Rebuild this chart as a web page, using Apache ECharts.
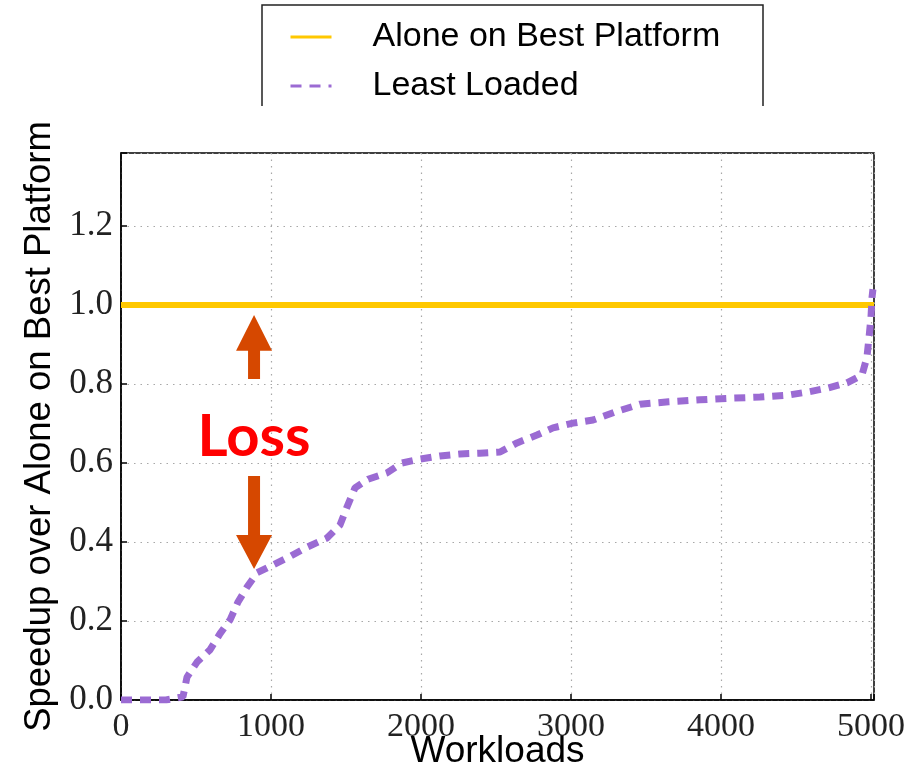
<!DOCTYPE html>
<html>
<head>
<meta charset="utf-8">
<script src="https://cdn.jsdelivr.net/npm/echarts@6/dist/echarts.min.js"></script>
<style>html,body{margin:0;padding:0;background:#fff}#c{width:916px;height:770px}</style>
</head>
<body>
<div id="c"></div>
<script>
// ---- data ----
const seriesNames = ['Alone on Best Platform', 'Least Loaded'];
const aloneX = [0, 5020];
const aloneY = [1.0, 1.0];
const leastX = [0, 150, 300, 413, 440, 507, 593, 660, 727, 780, 840, 907, 1013, 1120, 1240, 1373, 1460, 1507, 1560, 1647, 1773, 1873, 1993, 2127, 2260, 2393, 2527, 2640, 2773, 2880, 3013, 3147, 3300, 3460, 3650, 3860, 4050, 4260, 4447, 4580, 4713, 4840, 4940, 4973, 4987, 5000, 5007, 5013];
const leastY = [0, 0, 0, 0.008, 0.058, 0.096, 0.127, 0.168, 0.203, 0.248, 0.286, 0.322, 0.342, 0.362, 0.387, 0.410, 0.443, 0.489, 0.537, 0.559, 0.575, 0.600, 0.610, 0.618, 0.623, 0.625, 0.628, 0.651, 0.671, 0.689, 0.701, 0.709, 0.730, 0.749, 0.755, 0.760, 0.764, 0.767, 0.772, 0.780, 0.790, 0.803, 0.823, 0.868, 0.919, 0.970, 1.02, 1.04];
const xTicks = [0, 1000, 2000, 3000, 4000, 5000];
const yTicks = [0.0, 0.2, 0.4, 0.6, 0.8, 1.0, 1.2];
const xName = 'Workloads';
const yName = 'Speedup over Alone on Best Platform';
const annotText = 'Loss';

const chart = echarts.init(document.getElementById('c'), null, {renderer: 'canvas'});
const serif = 'Liberation Serif';
const sans = 'Liberation Sans';
const gridDot = {show: true, lineStyle: {color: '#a8a8a8', width: 1.2, type: [1.5, 5]}};
const onTick = (v, ticks, dec) => ticks.some(t => Math.abs(t - v) < 1e-6) ? v.toFixed(dec) : '';
const YEL = '#ffc800', PUR = '#9b6bd3';

const option = {
  animation: false,
  backgroundColor: '#fff',
  grid: {left: 121, right: 42, top: 153, bottom: 70, containLabel: false, outerBoundsMode: 'none',
    show: true, borderColor: '#000', borderWidth: 1.5, backgroundColor: 'transparent'},
  legend: {
    orient: 'vertical', left: 284, top: 14,
    itemWidth: 41, itemHeight: 14, itemGap: 13,
    lineStyle: {width: 3},
    itemStyle: {opacity: 0},
    textStyle: {fontFamily: sans, fontSize: 34, color: '#000', padding: [0, 0, 0, 36], lineHeight: 36},
    data: seriesNames
  },
  xAxis: {
    type: 'value', min: 0, max: 5020, interval: 1000,
    name: xName, nameLocation: 'middle', nameGap: 33, nameMoveOverlap: false,
    nameTextStyle: {fontFamily: sans, fontSize: 37, color: '#000'},
    axisLine: {show: true, onZero: false, lineStyle: {color: '#000', width: 1.5}},
    axisTick: {show: true, inside: true, length: 6, lineStyle: {color: '#000', width: 1.5}},
    axisLabel: {fontFamily: serif, fontSize: 34, color: '#222', margin: 10,
      formatter: v => onTick(v, xTicks, 0)},
    splitLine: gridDot
  },
  yAxis: {
    type: 'value', min: 0, max: 1.385, interval: 0.2,
    name: yName, nameLocation: 'middle', nameGap: 63,
    nameTextStyle: {fontFamily: sans, fontSize: 36.5, color: '#000'},
    axisLine: {show: true, onZero: false, lineStyle: {color: '#000', width: 1.5}},
    axisTick: {show: true, inside: true, length: 6, lineStyle: {color: '#000', width: 1.5}},
    axisLabel: {fontFamily: serif, fontSize: 35, color: '#222', margin: 8,
      formatter: v => onTick(v, yTicks, 1)},
    splitLine: gridDot
  },
  series: [{
    name: seriesNames[0], type: 'line', showSymbol: false, symbol: 'none',
    data: aloneX.map((x, i) => [x, aloneY[i]]),
    lineStyle: {color: YEL, width: 6},
    itemStyle: {color: YEL},
    z: 2
  }, {
    name: seriesNames[1], type: 'line', showSymbol: false, symbol: 'none',
    data: leastX.map((x, i) => [x, leastY[i]]),
    lineStyle: {color: PUR, width: 7, type: [11, 8], cap: 'butt'},
    itemStyle: {color: PUR},
    z: 3
  }]
};
chart.setOption(option);

// annotation: arrows & Loss text anchored in data coordinates
const P = (x, y) => chart.convertToPixel({xAxisIndex: 0, yAxisIndex: 0}, [x, y]);
const upArrow = [[887, 0.975], [1007, 0.884], [927, 0.884], [927, 0.813], [847, 0.813], [847, 0.884], [767, 0.884]];
const downArrow = [[847, 0.567], [927, 0.567], [927, 0.418], [1007, 0.418], [887, 0.332], [767, 0.418], [847, 0.418]];
const textPos = P(887, 0.666);
chart.setOption({graphic: [
  {type: 'polygon', shape: {points: upArrow.map(p => P(p[0], p[1]))}, style: {fill: '#d64800'}, z: 10},
  {type: 'polygon', shape: {points: downArrow.map(p => P(p[0], p[1]))}, style: {fill: '#d64800'}, z: 10},
  {type: 'text', x: textPos[0], y: textPos[1], z: 10,
    style: {text: annotText, fill: '#ff0000', font: 'bold 58px Lato', align: 'center', verticalAlign: 'middle'}},
  {type: 'polyline', shape: {points: [[262, 106], [262, 5], [763, 5], [763, 106]]},
    style: {stroke: '#222', lineWidth: 1.5, fill: null}, z: 10}
]});
</script>
</body>
</html>
